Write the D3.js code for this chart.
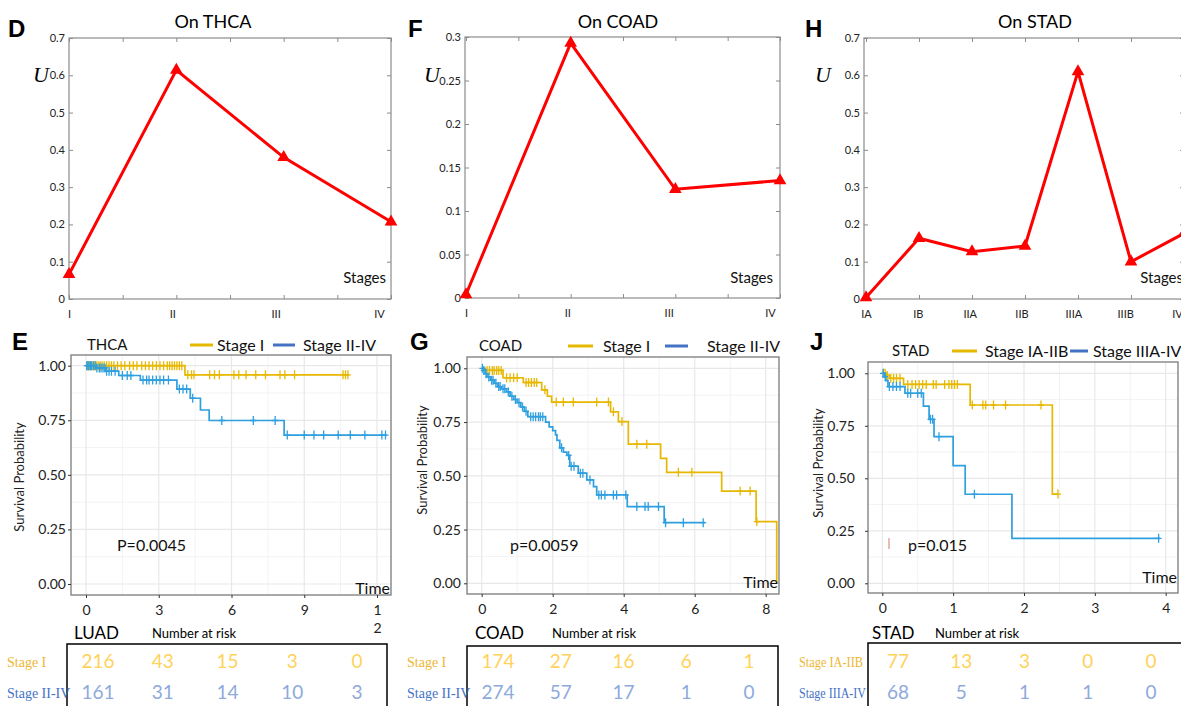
<!DOCTYPE html>
<html>
<head>
<meta charset="utf-8">
<script src="https://cdn.jsdelivr.net/npm/d3@7"></script>
<style>
  body { margin: 0; background: #fff; }
  text { font-family: Lato, "Open Sans", sans-serif; }
</style>
</head>
<body>
<div id="chart"></div>
<script>
// ---- top row: U value per stage ----
const thcaStages = ["I", "II", "III", "IV"];
const thcaU = [0.066, 0.614, 0.38, 0.207];
const thcaTicks = [0, 0.1, 0.2, 0.3, 0.4, 0.5, 0.6, 0.7];

const coadStages = ["I", "II", "III", "IV"];
const coadU = [0.004, 0.293, 0.125, 0.135];
const coadTicks = [0, 0.05, 0.1, 0.15, 0.2, 0.25, 0.3];

const stadStages = ["IA", "IB", "IIA", "IIB", "IIIA", "IIIB", "IV"];
const stadU = [0.004, 0.163, 0.127, 0.142, 0.61, 0.1, 0.176];
const stadTicks = [0, 0.1, 0.2, 0.3, 0.4, 0.5, 0.6, 0.7];

// ---- bottom row: Kaplan-Meier steps [time, survival] ----
const thcaStepsI = [[0, 1], [4.08, 0.958]];
const thcaEndI = 10.85;
const thcaCensI = [0.05, 0.1, 0.15, 0.2, 0.28, 0.35, 0.42, 0.5, 0.58, 0.66, 0.75, 0.85, 0.95, 1.05, 1.15, 1.3, 1.45, 1.6, 1.8, 1.95, 2.1, 2.3, 2.45, 2.6, 2.75, 2.9, 3.05, 3.2, 3.35, 3.45, 3.55, 3.65, 3.75, 3.85, 3.95, 4.2, 4.35, 4.45, 5.1, 5.3, 5.5, 6.1, 6.3, 6.6, 7.0, 7.4, 8.0, 8.2, 8.6, 10.6, 10.7, 10.8];
const thcaStepsII = [[0, 1], [0.4, 0.99], [0.8, 0.975], [1.35, 0.955], [2.24, 0.934], [3.75, 0.893], [4.3, 0.851], [4.72, 0.797], [5.08, 0.749], [8.17, 0.682]];
const thcaEndII = 12.4;
const thcaCensII = [0.03, 0.08, 0.12, 0.18, 0.22, 0.3, 0.38, 0.45, 0.55, 0.62, 0.7, 0.78, 0.85, 0.95, 1.05, 1.2, 1.5, 1.7, 1.85, 2.35, 2.5, 2.6, 2.75, 2.9, 3.05, 3.2, 3.4, 3.85, 4.0, 4.15, 4.4, 5.6, 6.9, 7.8, 8.3, 9.0, 9.4, 9.8, 10.4, 10.9, 11.5, 12.2, 12.35];

const coadStepsI = [[0, 1], [0.1, 0.99], [0.6, 0.956], [1.17, 0.934], [1.69, 0.9], [1.85, 0.87], [1.97, 0.843], [3.63, 0.798], [3.85, 0.752], [4.13, 0.647], [5.04, 0.581], [5.21, 0.516], [6.76, 0.429], [7.73, 0.287], [8.31, 0]];
const coadEndI = 8.31;
const coadCensI = [0.15, 0.22, 0.3, 0.35, 0.42, 0.48, 0.55, 0.7, 0.8, 0.9, 1.0, 1.25, 1.32, 1.4, 1.48, 1.55, 1.78, 2.1, 2.3, 2.58, 3.24, 3.57, 3.71, 3.95, 4.37, 4.65, 5.54, 5.92, 7.28, 7.56, 7.75];
const coadStepsII = [[0, 1], [0.05, 0.99], [0.1, 0.975], [0.15, 0.96], [0.25, 0.945], [0.35, 0.93], [0.45, 0.915], [0.55, 0.905], [0.7, 0.89], [0.8, 0.87], [0.9, 0.855], [1.0, 0.84], [1.1, 0.82], [1.2, 0.8], [1.3, 0.775], [1.8, 0.75], [1.9, 0.728], [2.0, 0.71], [2.08, 0.69], [2.12, 0.665], [2.2, 0.63], [2.3, 0.61], [2.4, 0.595], [2.48, 0.545], [2.72, 0.512], [2.96, 0.481], [3.15, 0.45], [3.24, 0.411], [4.1, 0.357], [5.14, 0.282]];
const coadEndII = 6.29;
const coadCensII = [0.02, 0.06, 0.12, 0.2, 0.28, 0.32, 0.4, 0.48, 0.52, 0.6, 0.65, 0.75, 0.85, 0.95, 1.05, 1.15, 1.25, 1.38, 1.45, 1.52, 1.6, 1.65, 1.72, 2.25, 2.45, 2.52, 2.6, 2.78, 2.85, 3.05, 3.3, 3.37, 3.47, 3.71, 3.8, 4.06, 4.37, 4.6, 4.69, 4.98, 5.18, 5.68, 6.24];

const stadStepsI = [[0, 1], [0.06, 0.99], [0.1, 0.976], [0.3, 0.947], [1.24, 0.849], [2.4, 0.425]];
const stadEndI = 2.48;
const stadCensI = [0.02, 0.04, 0.07, 0.12, 0.16, 0.2, 0.25, 0.36, 0.42, 0.47, 0.52, 0.57, 0.62, 0.72, 0.76, 0.88, 0.94, 0.98, 1.02, 1.06, 1.27, 1.42, 1.46, 1.57, 1.74, 2.24, 2.48];
const stadStepsII = [[0, 1], [0.03, 0.984], [0.05, 0.965], [0.08, 0.937], [0.32, 0.905], [0.58, 0.844], [0.66, 0.781], [0.73, 0.698], [1.0, 0.56], [1.17, 0.424], [1.83, 0.214]];
const stadEndII = 3.92;
const stadCensII = [0.01, 0.04, 0.1, 0.15, 0.2, 0.25, 0.36, 0.4, 0.5, 0.55, 0.68, 0.71, 0.8, 1.3, 3.9];

// ---- number at risk tables ----
const thcaRiskI = [216, 43, 15, 3, 0];
const thcaRiskII = [161, 31, 14, 10, 3];
const coadRiskI = [174, 27, 16, 6, 1];
const coadRiskII = [274, 57, 17, 1, 0];
const stadRiskI = [77, 13, 3, 0, 0];
const stadRiskII = [68, 5, 1, 1, 0];

const yellow = "#E7B800";
const blue = "#2E9FDF";
const legendBlue = "#4472C4";

const svg = d3.select("#chart").append("svg")
    .attr("width", 1181)
    .attr("height", 706)
    .style("background", "#fff");

const defs = svg.append("defs");

function panelLetter(txt, x, y) {
    svg.append("text").attr("x", x).attr("y", y).text(txt)
        .style("font-family", "'Liberation Sans', Arial, sans-serif")
        .style("font-weight", "bold").style("font-size", "24px").style("fill", "#000");
}

// top U-line panels
function drawU(p) {
    const g = svg.append("g");
    const n = p.stages.length;
    const x = d3.scaleLinear().domain([0, n - 1]).range([p.x0, p.x1]);
    const y = d3.scaleLinear().domain([0, p.ymax]).range([p.bottom, p.top]);
    const boxL = p.boxL || p.x0;
    const boxR = p.boxR || p.x1;
    const tickCol = "#8c8c8c";

    g.append("rect").attr("x", boxL).attr("y", p.top)
        .attr("width", boxR - boxL).attr("height", p.bottom - p.top)
        .attr("fill", "none").attr("stroke", tickCol).attr("stroke-width", 1.2);

    const xt = p.minor ? d3.range(0, n - 0.9, 0.5) : d3.range(n);
    const inward = [
        [d3.axisBottom(x).tickValues(xt), `translate(0,${p.bottom})`],
        [d3.axisTop(x).tickValues(xt), `translate(0,${p.top})`],
        [d3.axisLeft(y).tickValues(p.ticks), `translate(${boxL},0)`],
        [d3.axisRight(y).tickValues(p.ticks), `translate(${boxR},0)`]
    ];
    inward.forEach(([ax, tr]) => {
        const a = g.append("g").attr("transform", tr).call(ax.tickSize(-4).tickFormat(""));
        a.select(".domain").remove();
        a.selectAll("line").attr("stroke", tickCol);
    });

    // stage labels
    const xl = g.append("g").attr("transform", `translate(0,${p.bottom})`)
        .call(d3.axisBottom(x).tickValues(d3.range(n)).tickSize(0).tickPadding(11)
            .tickFormat(i => p.stages[i]));
    xl.select(".domain").remove();
    xl.selectAll("text").style("font-size", "11px").style("fill", "#222")
        .attr("dx", i => -p.lshift * i / (n - 1));

    const yl = g.append("g").attr("transform", `translate(${boxL},0)`)
        .call(d3.axisLeft(y).tickValues(p.ticks).tickSize(0).tickPadding(4).tickFormat(d3.format("~g")));
    yl.select(".domain").remove();
    yl.selectAll("text").style("font-size", "11px").style("fill", "#222");

    const pts = p.values.map((v, i) => [x(i), y(v)]);
    g.append("path").datum(pts)
        .attr("d", d3.line())
        .attr("fill", "none").attr("stroke", "#ff0000").attr("stroke-width", 3)
        .attr("stroke-linejoin", "miter");
    g.selectAll(".tri").data(pts).enter().append("path")
        .attr("transform", d => `translate(${d[0]},${d[1]})`)
        .attr("d", d3.symbol(d3.symbolTriangle).size(70))
        .attr("fill", "#ff0000");

    g.append("text").attr("x", p.titleX).attr("y", 28).attr("text-anchor", "middle")
        .text(p.title).style("font-size", "18px").style("fill", "#000");
    g.append("text").attr("x", p.ux).attr("y", 82).text("U")
        .style("font-family", "'Liberation Serif', 'Times New Roman', serif")
        .style("font-style", "italic").style("font-size", "22px");
    g.append("text").attr("x", p.stagesX).attr("y", 283).attr("text-anchor", "end")
        .text("Stages").style("font-size", "15px").style("fill", "#111");
    panelLetter(p.letter, p.lx, 37);
}

function survAt(steps, t) {
    let s = 1;
    steps.forEach(d => { if (d[0] <= t) s = d[1]; });
    return s;
}

// bottom Kaplan-Meier panels
function drawKM(p, idx) {
    const g = svg.append("g");
    const x = d3.scaleLinear().domain([0, p.xTicks[p.xTicks.length - 1]]).range(p.xPix);
    const y = d3.scaleLinear().domain([0, 1]).range(p.yPix);
    const b = p.box;

    defs.append("clipPath").attr("id", "km" + idx).append("rect")
        .attr("x", b[0]).attr("y", b[2]).attr("width", b[1] - b[0]).attr("height", b[3] - b[2]);
    const inner = g.append("g").attr("clip-path", `url(#km${idx})`);

    const step = p.xTicks[1] - p.xTicks[0];
    const xMinor = d3.range(-step / 2, p.xTicks[p.xTicks.length - 1] + step, step);
    const yMajor = [0, 0.25, 0.5, 0.75, 1];
    const yMinor = [0.125, 0.375, 0.625, 0.875];
    inner.selectAll(".vmin").data(xMinor).enter().append("line")
        .attr("x1", d => x(d)).attr("x2", d => x(d)).attr("y1", b[2]).attr("y2", b[3])
        .attr("stroke", "#f3f3f3").attr("stroke-width", 1);
    inner.selectAll(".hmin").data(yMinor).enter().append("line")
        .attr("x1", b[0]).attr("x2", b[1]).attr("y1", d => y(d)).attr("y2", d => y(d))
        .attr("stroke", "#f3f3f3").attr("stroke-width", 1);
    inner.selectAll(".vmaj").data(p.xTicks).enter().append("line")
        .attr("x1", d => x(d)).attr("x2", d => x(d)).attr("y1", b[2]).attr("y2", b[3])
        .attr("stroke", "#e8e8e8").attr("stroke-width", 1.2);
    inner.selectAll(".hmaj").data(yMajor).enter().append("line")
        .attr("x1", b[0]).attr("x2", b[1]).attr("y1", d => y(d)).attr("y2", d => y(d))
        .attr("stroke", "#e8e8e8").attr("stroke-width", 1.2);

    const line = d3.line().x(d => x(d[0])).y(d => y(d[1])).curve(d3.curveStepAfter);
    p.curves.forEach(c => {
        const last = c.steps[c.steps.length - 1][1];
        inner.append("path").datum(c.steps.concat([[c.end, last]]))
            .attr("d", line).attr("fill", "none")
            .attr("stroke", c.color).attr("stroke-width", 1.7);
        inner.selectAll(null).data(c.cens).enter().append("path")
            .attr("transform", t => `translate(${x(t)},${y(survAt(c.steps, t))})`)
            .attr("d", "M-3,0H3M0,-4.5V4.5")
            .attr("stroke", c.color).attr("stroke-width", 1.3).attr("fill", "none");
    });

    g.append("rect").attr("x", b[0]).attr("y", b[2])
        .attr("width", b[1] - b[0]).attr("height", b[3] - b[2])
        .attr("fill", "none").attr("stroke", "#7a7a7a").attr("stroke-width", 1.3);

    const ya = g.append("g").attr("transform", `translate(${b[0]},0)`)
        .call(d3.axisLeft(y).tickValues(yMajor).tickFormat(d3.format(".2f")).tickSize(3).tickPadding(p.yPad));
    ya.select(".domain").remove();
    ya.selectAll("line").attr("stroke", "#333");
    ya.selectAll("text").style("font-size", "14px").style("fill", "#222");

    const xa = g.append("g").attr("transform", `translate(0,${b[3]})`)
        .call(d3.axisBottom(x).tickValues(p.xTicks).tickFormat(d3.format("~g")).tickSize(3).tickPadding(7));
    xa.select(".domain").remove();
    xa.selectAll("line").attr("stroke", "#333");
    xa.selectAll("text").style("font-size", "14px").style("fill", "#222");
    if (p.wrapLast) {
        xa.selectAll("text").filter(d => d >= 10).each(function(d) {
            const s = String(d);
            const t = d3.select(this).text(s[0]);
            t.append("tspan").attr("x", 0).attr("dy", "1.3em").text(s.slice(1));
        });
    }

    g.append("text").attr("transform", `translate(${p.ytX},${p.ytY}) rotate(-90)`)
        .attr("text-anchor", "middle").text("Survival Probability")
        .style("font-size", "13px").style("fill", "#222");
    g.append("text").attr("x", b[1] - 1).attr("y", p.timeY).attr("text-anchor", "end")
        .text("Time").style("font-size", "16px").style("fill", "#111");
    g.append("text").attr("x", p.pX).attr("y", 551).text(p.pText)
        .style("font-size", "16px").style("fill", "#111");

    // header + legend
    g.append("text").attr("x", p.nameX).attr("y", p.headY).text(p.name)
        .style("font-size", "15px").style("fill", "#111");
    p.legend.forEach(l => {
        g.append("line").attr("x1", l.x1).attr("x2", l.x2).attr("y1", p.headY - 5).attr("y2", p.headY - 5)
            .attr("stroke", l.color).attr("stroke-width", 3);
        g.append("text").attr("x", l.tx).attr("y", p.headY + 1).text(l.label)
            .style("font-size", "16px").style("fill", "#111");
    });
    panelLetter(p.letter, p.lx, 350);
}

// number at risk tables
function drawTable(t) {
    const g = svg.append("g");
    g.append("text").attr("x", t.nameX).attr("y", 639).text(t.name)
        .style("font-size", "17px").style("fill", "#000");
    g.append("text").attr("x", t.nrX).attr("y", 638).text("Number at risk")
        .style("font-size", "13px").style("fill", "#000");
    g.append("path").attr("d", `M${t.boxL},720V${t.top}H${t.boxR}V720`)
        .attr("fill", "none").attr("stroke", "#000").attr("stroke-width", 1.5);
    const col = d3.scaleLinear().domain([0, 4]).range(t.cols);
    t.rows.forEach((r, i) => {
        const yy = 668 + i * 31;
        const lab = g.append("text").attr("x", t.labelX).attr("y", yy - 1).text(r.label)
            .style("font-family", "'Liberation Serif', 'Times New Roman', serif")
            .style("font-size", "14px").style("fill", r.labelColor);
        if (t.labelW) lab.attr("textLength", t.labelW[i]).attr("lengthAdjust", "spacingAndGlyphs");
        g.selectAll(null).data(r.values).enter().append("text")
            .attr("x", (d, j) => col(j)).attr("y", yy).attr("text-anchor", "middle")
            .text(d => d).style("font-size", "19px").style("fill", r.color);
    });
}

drawU({ letter: "D", lx: 8, title: "On THCA", titleX: 213, stages: thcaStages, values: thcaU,
    ticks: thcaTicks, ymax: 0.7, x0: 69, x1: 391, top: 38, bottom: 299, minor: true,
    ux: 33, stagesX: 386, lshift: 12 });
drawU({ letter: "F", lx: 408, title: "On COAD", titleX: 618, stages: coadStages, values: coadU,
    ticks: coadTicks, ymax: 0.3, x0: 466, x1: 780, boxL: 465, top: 37, bottom: 298, minor: true,
    ux: 424, stagesX: 773, lshift: 10 });
drawU({ letter: "H", lx: 805, title: "On STAD", titleX: 1035, stages: stadStages, values: stadU,
    ticks: stadTicks, ymax: 0.7, x0: 866, x1: 1184, boxL: 864, top: 38, bottom: 299, minor: false,
    ux: 815, stagesX: 1183, lshift: 7 });

drawKM({ letter: "E", lx: 12, name: "THCA", nameX: 87, headY: 350,
    xTicks: [0, 3, 6, 9, 12], xPix: [86, 377], yPix: [584, 365.7], box: [71, 391, 355, 595],
    yPad: 2, ytX: 24, ytY: 477, timeY: 594, pX: 117, pText: "P=0.0045", wrapLast: true,
    curves: [
        { steps: thcaStepsI, end: thcaEndI, cens: thcaCensI, color: yellow },
        { steps: thcaStepsII, end: thcaEndII, cens: thcaCensII, color: blue }
    ],
    legend: [
        { x1: 190, x2: 213, tx: 217, label: "Stage I", color: yellow },
        { x1: 273, x2: 295, tx: 303, label: "Stage II-IV", color: legendBlue }
    ] }, 0);
drawKM({ letter: "G", lx: 410, name: "COAD", nameX: 479, headY: 351,
    xTicks: [0, 2, 4, 6, 8], xPix: [481.7, 765.7], yPix: [583.3, 368.3], box: [467, 779, 357, 594],
    yPad: 3, ytX: 427, ytY: 460, timeY: 588, pX: 510, pText: "p=0.0059", wrapLast: false,
    curves: [
        { steps: coadStepsI, end: coadEndI, cens: coadCensI, color: yellow },
        { steps: coadStepsII, end: coadEndII, cens: coadCensII, color: blue }
    ],
    legend: [
        { x1: 568, x2: 593, tx: 603, label: "Stage I", color: yellow },
        { x1: 665, x2: 688, tx: 707, label: "Stage II-IV", color: legendBlue }
    ] }, 1);
drawKM({ letter: "J", lx: 810, name: "STAD", nameX: 892, headY: 356,
    xTicks: [0, 1, 2, 3, 4], xPix: [882.3, 1165.7], yPix: [583.3, 373.3], box: [868, 1178, 362, 593],
    yPad: 10, ytX: 823, ytY: 463, timeY: 583, pX: 908, pText: "p=0.015", wrapLast: false,
    curves: [
        { steps: stadStepsI, end: stadEndI, cens: stadCensI, color: yellow },
        { steps: stadStepsII, end: stadEndII, cens: stadCensII, color: blue }
    ],
    legend: [
        { x1: 952, x2: 977, tx: 985, label: "Stage IA-IIB", color: yellow },
        { x1: 1070, x2: 1088, tx: 1093, label: "Stage IIIA-IV", color: legendBlue }
    ] }, 2);

// small stray mark in panel J
svg.append("line").attr("x1", 889).attr("x2", 889).attr("y1", 538).attr("y2", 549)
    .attr("stroke", "#e0a898").attr("stroke-width", 1.5);

drawTable({ name: "LUAD", nameX: 74, nrX: 152, boxL: 67, boxR: 387, top: 644, labelX: 7,
    cols: [98, 357],
    rows: [
        { label: "Stage I", values: thcaRiskI, color: "#FFD25A", labelColor: "#EDB733" },
        { label: "Stage II-IV", values: thcaRiskII, color: "#8EAADB", labelColor: legendBlue }
    ] });
drawTable({ name: "COAD", nameX: 475, nrX: 552, boxL: 467, boxR: 778, top: 646, labelX: 407,
    cols: [498, 749],
    rows: [
        { label: "Stage I", values: coadRiskI, color: "#FFD25A", labelColor: "#EDB733" },
        { label: "Stage II-IV", values: coadRiskII, color: "#8EAADB", labelColor: legendBlue }
    ] });
drawTable({ name: "STAD", nameX: 872, nrX: 935, boxL: 868, boxR: 1200, top: 643, labelX: 799,
    cols: [898, 1151], labelW: [64, 67],
    rows: [
        { label: "Stage IA-IIB", values: stadRiskI, color: "#FFD25A", labelColor: "#EDB733" },
        { label: "Stage IIIA-IV", values: stadRiskII, color: "#8EAADB", labelColor: legendBlue }
    ] });
</script>
</body>
</html>
